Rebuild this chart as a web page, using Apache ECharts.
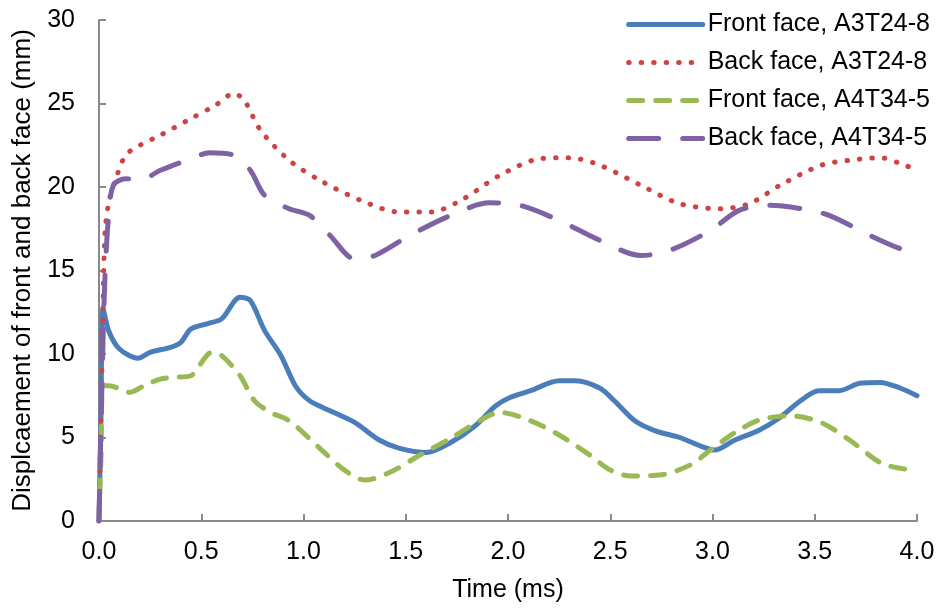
<!DOCTYPE html>
<html>
<head>
<meta charset="utf-8">
<script src="https://cdn.jsdelivr.net/npm/echarts@6/dist/echarts.min.js"></script>
<style>
  html, body { margin: 0; padding: 0; background: #fff; }
  #chart { width: 943px; height: 614px; }
</style>
</head>
<body>
<div id="chart"></div>
<script>
// time (ms) / displacement (mm)
const frontA3T = [
  [0, 0], [0.01, 6.5], [0.02, 12.7], [0.05, 11.3], [0.1, 10.3], [0.19, 9.75], [0.25, 10.1],
  [0.35, 10.4], [0.4, 10.7], [0.45, 11.5], [0.54, 11.85], [0.6, 12.1], [0.69, 13.4],
  [0.74, 13.2], [0.81, 11.4], [0.89, 9.9], [0.96, 8.1], [1.03, 7.2], [1.13, 6.6],
  [1.25, 5.9], [1.37, 4.85], [1.47, 4.35], [1.6, 4.1], [1.72, 4.7], [1.84, 5.7],
  [1.94, 6.9], [2.01, 7.4], [2.11, 7.8], [2.25, 8.4], [2.33, 8.4], [2.45, 7.95],
  [2.52, 7.2], [2.62, 6.0], [2.72, 5.4], [2.84, 5.0], [2.94, 4.5], [3.01, 4.25],
  [3.11, 4.85], [3.23, 5.45], [3.33, 6.2], [3.43, 7.2], [3.52, 7.8], [3.62, 7.8],
  [3.72, 8.25], [3.82, 8.3], [3.92, 7.95], [4.0, 7.5]
];
const backA3T = [
  [0, 0], [0.015, 9.6], [0.02, 13], [0.03, 17.4], [0.05, 19.2], [0.08, 20.4], [0.13, 21.9],
  [0.2, 22.5], [0.3, 23.1], [0.45, 24.1], [0.57, 24.9], [0.66, 25.6], [0.71, 25.2],
  [0.79, 23.4], [0.93, 21.6], [1.08, 20.4], [1.28, 19.2], [1.47, 18.5], [1.62, 18.5],
  [1.77, 19.2], [1.96, 20.7], [2.16, 21.7], [2.3, 21.75], [2.45, 21.3], [2.65, 20.1],
  [2.84, 19.0], [3.04, 18.7], [3.18, 19.0], [3.33, 20.1], [3.53, 21.3], [3.67, 21.6],
  [3.82, 21.75], [3.92, 21.4], [4.0, 21.0]
];
const frontA4T = [
  [0, 0], [0.01, 4], [0.02, 8.1], [0.05, 8.1], [0.15, 7.7], [0.22, 8.1], [0.3, 8.5],
  [0.37, 8.6], [0.45, 8.7], [0.49, 9.3], [0.55, 10.1], [0.6, 9.9], [0.69, 8.7],
  [0.76, 7.2], [0.84, 6.5], [0.93, 6.0], [1.08, 4.35], [1.2, 3.05], [1.3, 2.45],
  [1.42, 2.9], [1.57, 3.95], [1.72, 4.95], [1.86, 6.0], [1.96, 6.5], [2.11, 6.0],
  [2.25, 5.15], [2.4, 3.95], [2.5, 3.05], [2.6, 2.7], [2.74, 2.75], [2.89, 3.35],
  [2.99, 4.25], [3.11, 5.3], [3.23, 6.05], [3.38, 6.3], [3.53, 5.9], [3.67, 4.85],
  [3.82, 3.5], [3.92, 3.15], [4.0, 3.05]
];
const backA4T = [
  [0, 0], [0.025, 13.2], [0.045, 18], [0.07, 20.1], [0.13, 20.5], [0.2, 20.4], [0.3, 21],
  [0.45, 21.7], [0.54, 22.05], [0.66, 21.9], [0.74, 21.0], [0.81, 19.5], [0.93, 18.7],
  [1.03, 18.3], [1.13, 17.1], [1.25, 15.7], [1.35, 15.9], [1.52, 17.1], [1.72, 18.3],
  [1.91, 19.05], [2.06, 18.9], [2.25, 18.0], [2.45, 16.8], [2.65, 15.9], [2.79, 16.2],
  [2.99, 17.4], [3.13, 18.6], [3.28, 18.9], [3.43, 18.7], [3.57, 18.3], [3.77, 17.1],
  [3.92, 16.3], [4.0, 16.1]
];
const seriesNames = [
  "Front face, A3T24-8",
  "Back face, A3T24-8",
  "Front face, A4T34-5",
  "Back face, A4T34-5"
];

const chart = echarts.init(document.getElementById("chart"));
const axisColor = "#898989";
const font = "Liberation Sans, Arial, sans-serif";

function line(name, data, color, type) {
  return {
    name,
    type: "line",
    data,
    smooth: 0.3,
    showSymbol: false,
    symbol: "none",
    lineStyle: { color, width: 5, type, cap: "round" },
    itemStyle: { color }
  };
}

chart.setOption({
  animation: false,
  backgroundColor: "#fff",
  grid: { left: 99, right: 26, top: 20, bottom: 93 },
  legend: {
    orient: "vertical",
    right: 8,
    top: 7,
    itemWidth: 74,
    itemHeight: 12,
    itemGap: 13,
    itemStyle: { opacity: 0 },
    lineStyle: { width: 5 },
    textStyle: { fontSize: 25, color: "#000", fontFamily: font },
    data: seriesNames
  },
  xAxis: {
    type: "value",
    min: 0,
    max: 4,
    interval: 0.5,
    name: "Time (ms)",
    nameLocation: "middle",
    nameGap: 57,
    nameTextStyle: { fontSize: 25, color: "#000", fontFamily: font },
    axisLine: { lineStyle: { color: axisColor, width: 2 } },
    axisTick: { inside: true, length: 7, lineStyle: { color: axisColor, width: 2 } },
    axisLabel: {
      fontSize: 25, color: "#000", fontFamily: font, margin: 19,
      formatter: v => v.toFixed(1)
    },
    splitLine: { show: false }
  },
  yAxis: {
    type: "value",
    min: 0,
    max: 30,
    interval: 5,
    name: "Displcaement of front and back face (mm)",
    nameLocation: "middle",
    nameGap: 61,
    nameTextStyle: { fontSize: 26, color: "#000", fontFamily: font },
    axisLine: { show: true, lineStyle: { color: axisColor, width: 2 } },
    axisTick: { show: true, inside: true, length: 7, lineStyle: { color: axisColor, width: 2 } },
    axisLabel: { fontSize: 25, color: "#000", fontFamily: font, margin: 24 },
    splitLine: { show: false }
  },
  series: [
    line(seriesNames[0], frontA3T, "#4a7ebb", "solid"),
    line(seriesNames[1], backA3T, "#cc4444", [0.5, 12]),
    line(seriesNames[2], frontA4T, "#98b954", [14, 13]),
    line(seriesNames[3], backA4T, "#7f62a3", [30, 24])
  ]
});
</script>
</body>
</html>
